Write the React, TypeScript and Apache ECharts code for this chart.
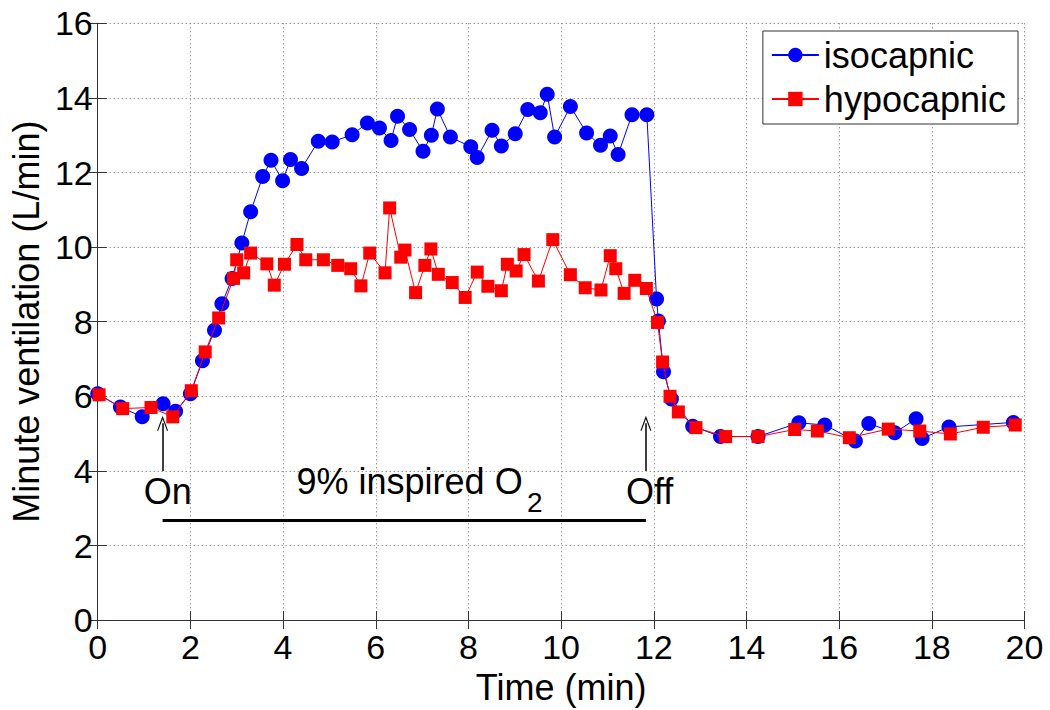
import React, { useEffect, useRef } from "react";
import * as echarts from "echarts";

// ---- data (time in min, minute ventilation in L/min) ----
const isoTime = [0.0, 0.49, 0.96, 1.41, 1.68, 2.0, 2.26, 2.52, 2.68, 2.9, 3.11, 3.3, 3.56, 3.74, 3.99, 4.16, 4.4, 4.76, 5.06, 5.49, 5.82, 6.08, 6.33, 6.47, 6.73, 7.02, 7.2, 7.33, 7.61, 8.05, 8.19, 8.51, 8.71, 9.01, 9.28, 9.55, 9.7, 9.86, 10.2, 10.55, 10.85, 11.06, 11.23, 11.53, 11.85, 12.06, 12.1, 12.21, 12.38, 12.84, 13.44, 14.25, 15.13, 15.69, 16.35, 16.64, 17.2, 17.66, 17.79, 18.37, 19.76];
const isoVent = [6.07, 5.71, 5.45, 5.8, 5.6, 6.07, 6.95, 7.77, 8.48, 9.16, 10.11, 10.95, 11.89, 12.33, 11.78, 12.35, 12.11, 12.84, 12.82, 13.01, 13.33, 13.19, 12.86, 13.51, 13.15, 12.57, 13.0, 13.7, 12.95, 12.69, 12.4, 13.13, 12.71, 13.04, 13.69, 13.6, 14.1, 12.95, 13.77, 13.06, 12.73, 12.98, 12.48, 13.55, 13.55, 8.61, 8.02, 6.66, 5.93, 5.2, 4.92, 4.92, 5.29, 5.23, 4.8, 5.27, 5.02, 5.4, 4.87, 5.18, 5.3];

const hypoTime = [0.03, 0.54, 1.15, 1.62, 2.02, 2.32, 2.61, 2.93, 3.0, 3.15, 3.3, 3.65, 3.81, 4.03, 4.3, 4.49, 4.87, 5.18, 5.46, 5.68, 5.87, 6.2, 6.3, 6.54, 6.63, 6.86, 7.06, 7.19, 7.35, 7.65, 7.93, 8.19, 8.42, 8.71, 8.84, 9.03, 9.2, 9.51, 9.82, 10.2, 10.52, 10.86, 11.06, 11.18, 11.36, 11.59, 11.84, 12.08, 12.19, 12.35, 12.53, 12.91, 13.55, 14.25, 15.04, 15.53, 16.22, 17.06, 17.74, 18.4, 19.11, 19.8];
const hypoVent = [6.04, 5.67, 5.7, 5.45, 6.15, 7.19, 8.1, 9.16, 9.66, 9.31, 9.84, 9.55, 8.98, 9.54, 10.07, 9.66, 9.66, 9.51, 9.42, 8.96, 9.84, 9.31, 11.05, 9.73, 9.92, 8.78, 9.51, 9.95, 9.27, 9.05, 8.65, 9.33, 8.95, 8.83, 9.54, 9.36, 9.8, 9.09, 10.2, 9.26, 8.91, 8.85, 9.77, 9.42, 8.76, 9.11, 8.89, 7.98, 6.92, 6.0, 5.58, 5.16, 4.92, 4.92, 5.11, 5.07, 4.89, 5.12, 5.07, 4.99, 5.17, 5.23];

const seriesNames = ["isocapnic", "hypocapnic"];
const xTicks = { min: 0, max: 20, step: 2 };
const yTicks = { min: 0, max: 16, step: 2 };

// annotation content (data coordinates)
const hypoxiaOn = 1.4;
const hypoxiaOff = 11.83;
const barLevel = 2.68;
const arrowBase = 4.0;
const arrowTip = 5.28;
const annotationTexts = [
  { text: "On", x: 1.51, y: 3.46 },
  { text: "9% inspired O", x: 6.73, y: 3.72 },
  { text: "2", x: 9.43, y: 3.14, small: true },
  { text: "Off", x: 11.91, y: 3.46 },
];

const FONT = "'Liberation Sans', Arial, Helvetica, sans-serif";
const CHEVRON = "path://M0,14 L5,0 L10,14 L9,14 L5,3.2 L1,14 Z";

export default function App() {
  const ref = useRef<HTMLDivElement>(null);

  useEffect(() => {
    if (!ref.current) return;
    const chart = echarts.init(ref.current, undefined, { renderer: "svg" });

    const iso = isoTime.map((t, i) => [t, isoVent[i]]);
    const hypo = hypoTime.map((t, i) => [t, hypoVent[i]]);

    const axisLineStyle = { color: "#333", width: 1 };
    const gridLine = { show: true, lineStyle: { color: "#6e6e6e", type: [1, 3] as any, width: 1 } };

    const option: any = {
      animation: false,
      backgroundColor: "#fff",
      textStyle: { fontFamily: FONT },
      grid: { left: 95.5, right: 25.5, top: 23.3, bottom: 82.7, containLabel: false },
      legend: {
        data: seriesNames,
        orient: "vertical",
        right: 32,
        top: 31,
        padding: [4, 12, 5, 8],
        itemGap: 4,
        itemWidth: 47,
        itemHeight: 18,
        backgroundColor: "#fff",
        borderColor: "#333",
        borderWidth: 1,
        borderRadius: 0,
        textStyle: { fontSize: 36, color: "#000", fontFamily: FONT, lineHeight: 40 },
      },
      xAxis: [
        {
          type: "value",
          min: xTicks.min,
          max: xTicks.max,
          interval: xTicks.step,
          name: "Time (min)",
          nameLocation: "middle",
          nameGap: 40,
          nameTextStyle: { fontSize: 36, color: "#000", fontFamily: FONT },
          axisLine: { show: true, lineStyle: axisLineStyle },
          axisTick: { show: true, inside: true, length: 9, lineStyle: axisLineStyle },
          axisLabel: { fontSize: 34, color: "#000", margin: 10, fontFamily: FONT },
          splitLine: gridLine,
        },
        {
          type: "value",
          position: "top",
          min: xTicks.min,
          max: xTicks.max,
          interval: xTicks.step,
          axisLine: { show: true, lineStyle: axisLineStyle },
          axisTick: { show: true, inside: true, length: 9, lineStyle: axisLineStyle },
          axisLabel: { show: false },
          splitLine: { show: false },
        },
      ],
      yAxis: [
        {
          type: "value",
          min: yTicks.min,
          max: yTicks.max,
          interval: yTicks.step,
          name: "Minute ventilation (L/min)",
          nameLocation: "middle",
          nameGap: 53,
          nameRotate: 90,
          nameTextStyle: { fontSize: 36, color: "#000", fontFamily: FONT },
          axisLine: { show: true, lineStyle: axisLineStyle },
          axisTick: { show: true, inside: true, length: 9, lineStyle: axisLineStyle },
          axisLabel: { fontSize: 34, color: "#000", margin: 5, fontFamily: FONT },
          splitLine: gridLine,
        },
        {
          type: "value",
          position: "right",
          min: yTicks.min,
          max: yTicks.max,
          interval: yTicks.step,
          axisLine: { show: true, lineStyle: axisLineStyle },
          axisTick: { show: true, inside: true, length: 9, lineStyle: axisLineStyle },
          axisLabel: { show: false },
          splitLine: { show: false },
        },
      ],
      series: [
        {
          name: seriesNames[0],
          type: "line",
          data: iso,
          symbol: "circle",
          symbolSize: 15,
          color: "#0000ff",
          itemStyle: { color: "#0000ff" },
          lineStyle: { color: "#0000ff", width: 1 },
          z: 2,
        },
        {
          name: seriesNames[1],
          type: "line",
          data: hypo,
          symbol: "rect",
          symbolSize: 13,
          color: "#ff0000",
          itemStyle: { color: "#ff0000" },
          lineStyle: { color: "#ff0000", width: 1 },
          z: 3,
          markLine: {
            silent: true,
            animation: false,
            symbol: ["none", CHEVRON],
            symbolSize: [11, 15],
            label: { show: false },
            lineStyle: { color: "#000", type: "solid", width: 1.5 },
            data: [
              [
                { coord: [hypoxiaOn, barLevel], symbol: "none" },
                { coord: [hypoxiaOff, barLevel], symbol: "none", lineStyle: { width: 3, color: "#000", type: "solid" } },
              ],
              [{ coord: [hypoxiaOn, arrowBase] }, { coord: [hypoxiaOn, arrowTip] }],
              [{ coord: [hypoxiaOff, arrowBase] }, { coord: [hypoxiaOff, arrowTip] }],
            ],
          },
          markPoint: {
            silent: true,
            animation: false,
            symbol: "circle",
            symbolSize: 0,
            label: { show: true, position: "inside", color: "#000", fontSize: 36, fontFamily: FONT },
            itemStyle: { color: "transparent" },
            data: annotationTexts.map((a) => ({
              coord: [a.x, a.y],
              value: a.text,
              label: { formatter: a.text, fontSize: a.small ? 28 : 36 },
            })),
          },
        },
      ],
    };

    chart.setOption(option);
    return () => chart.dispose();
  }, []);

  return (
    <div
      ref={ref}
      style={{ position: "absolute", left: 0, top: 0, width: 1050, height: 710, background: "#fff" }}
    />
  );
}
